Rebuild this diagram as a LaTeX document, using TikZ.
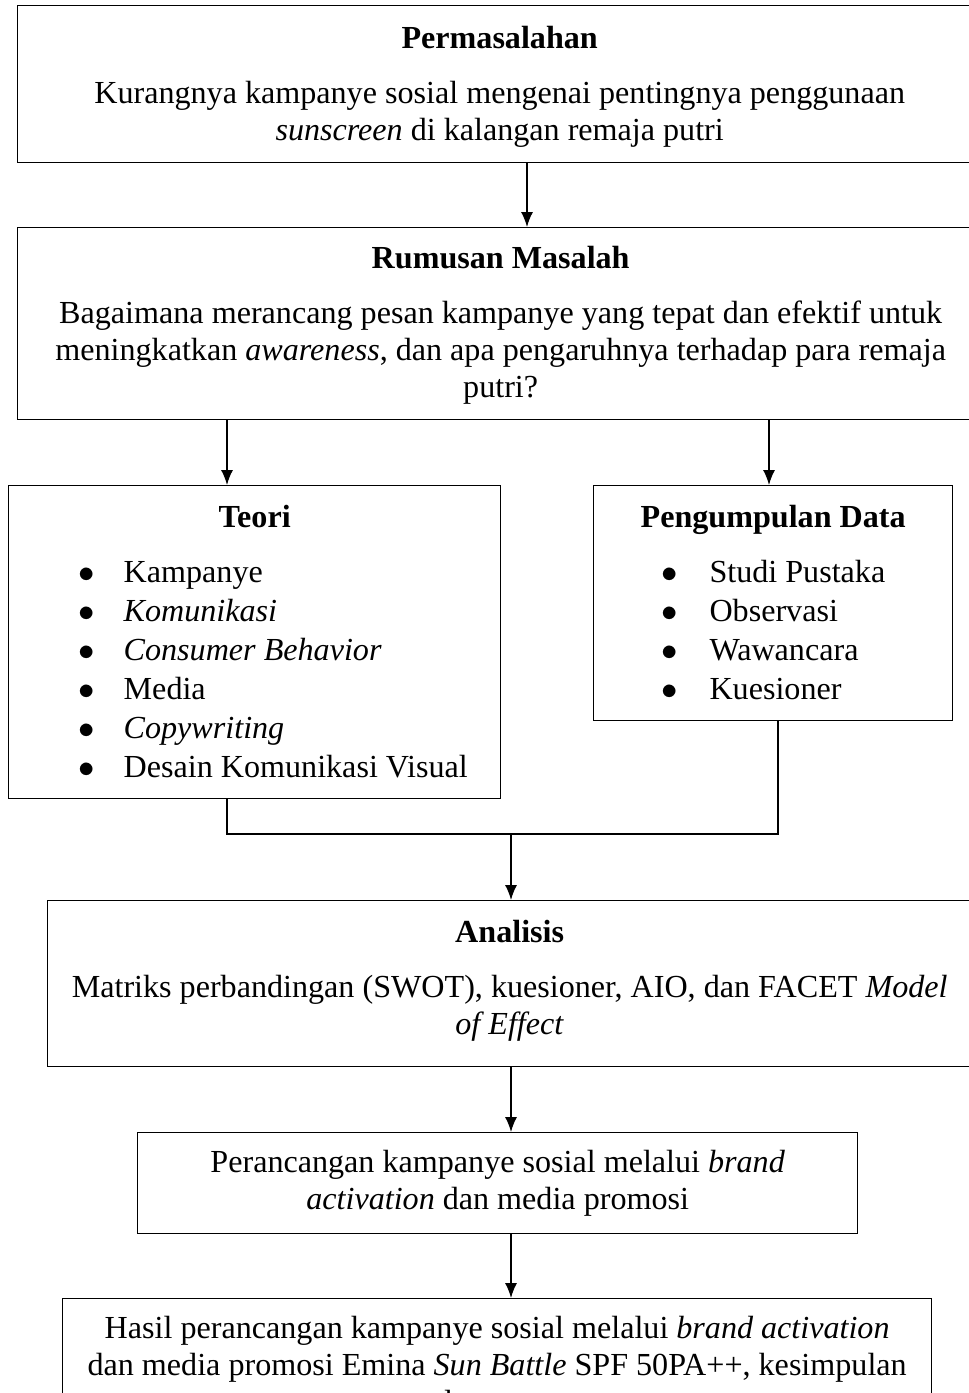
\documentclass[tikz,border=0pt]{standalone}
\usepackage{fontspec}
\setmainfont{Liberation Serif}
\usetikzlibrary{arrows.meta,positioning}
\tikzset{
 kotak/.style={draw, line width=0.5pt, anchor=north west, align=center, inner sep=0pt, font=\fontsize{11.8}{13.6}\selectfont},
 panah/.style={-{Latex[length=5.5pt,width=4.4pt]}, line width=0.5pt},
 garis/.style={line width=0.5pt}
}
\renewcommand{\arraystretch}{1.05}
\newcommand{\turun}[1]{\rule[-#1]{0pt}{0pt}}
\newcommand{\naik}[1]{\rule{0pt}{#1}}
\begin{document}
\begin{tikzpicture}[x=0.3674pt, y=-0.3674pt]
 \useasboundingbox (0,0) rectangle (969,1393);
 \node[kotak, minimum width=964*0.3674pt, minimum height=157*0.3674pt] (masalah) at (17,5)
  {\naik{10.2pt}\textbf{Permasalahan}\\[6.6pt] Kurangnya kampanye sosial mengenai pentingnya penggunaan\\ \textit{sunscreen} di kalangan remaja putri};
 \node[kotak, minimum width=966*0.3674pt, minimum height=192*0.3674pt] (rumusan) at (17,227)
  {\naik{9.5pt}\textbf{Rumusan Masalah}\\[6.6pt] Bagaimana merancang pesan kampanye yang tepat dan efektif untuk\\ meningkatkan \textit{awareness}, dan apa pengaruhnya terhadap para remaja\\ putri?};
 \node[kotak, minimum width=492*0.3674pt, minimum height=313*0.3674pt] (teori) at (8,485)
  {\naik{11.6pt}\textbf{Teori}\\[6.8pt] \hspace*{13.6pt}\begin{tabular}[t]{@{}l@{\hspace{10.6pt}}l@{}}
   $\bullet$ & Kampanye\\ $\bullet$ & \textit{Komunikasi}\\ $\bullet$ & \textit{Consumer Behavior}\\
   $\bullet$ & Media\\ $\bullet$ & \textit{Copywriting}\\ $\bullet$ & Desain Komunikasi Visual
  \end{tabular}};
 \node[kotak, minimum width=359*0.3674pt, minimum height=235*0.3674pt] (data) at (593,485)
  {\naik{11.8pt}\textbf{Pengumpulan Data}\\[6.8pt] \begin{tabular}[t]{@{}l@{\hspace{11.8pt}}l@{}}
   $\bullet$ & Studi Pustaka\\ $\bullet$ & Observasi\\ $\bullet$ & Wawancara\\ $\bullet$ & Kuesioner
  \end{tabular}};
 \node[kotak, minimum width=924*0.3674pt, minimum height=166*0.3674pt] (analisis) at (47,900)
  {\textbf{Analisis}\\[6.6pt] Matriks perbandingan (SWOT), kuesioner, AIO, dan FACET \textit{Model}\\ \textit{of Effect}\turun{4.8pt}};
 \node[kotak, minimum width=720*0.3674pt, minimum height=101*0.3674pt] (rancang) at (137,1132)
  {Perancangan kampanye sosial melalui \textit{brand}\\ \textit{activation} dan media promosi};
 \node[kotak, minimum width=869*0.3674pt, minimum height=132*0.3674pt] (hasil) at (62,1298)
  {Hasil perancangan kampanye sosial melalui \textit{brand activation}\\ dan media promosi Emina \textit{Sun Battle} SPF 50PA++, kesimpulan\\ dan saran};
 % jalur panah
 \coordinate (sumbuA) at (527,0);
 \coordinate (sumbuKiri) at (227,0);
 \coordinate (sumbuKanan) at (769,0);
 \coordinate (sumbuGabung) at (778,0);
 \coordinate (simpul) at (511,834);
 \draw[panah] (masalah.south -| sumbuA) -- (rumusan.north -| sumbuA);
 \draw[panah] (rumusan.south -| sumbuKiri) -- (teori.north -| sumbuKiri);
 \draw[panah] (rumusan.south -| sumbuKanan) -- (data.north -| sumbuKanan);
 \draw[garis] (teori.south -| sumbuKiri) |- (simpul) -| (data.south -| sumbuGabung);
 \draw[panah] (simpul) -- (analisis.north -| simpul);
 \draw[panah] (analisis.south -| simpul) -- (rancang.north -| simpul);
 \draw[panah] (rancang.south -| simpul) -- (hasil.north -| simpul);
\end{tikzpicture}
\end{document}
